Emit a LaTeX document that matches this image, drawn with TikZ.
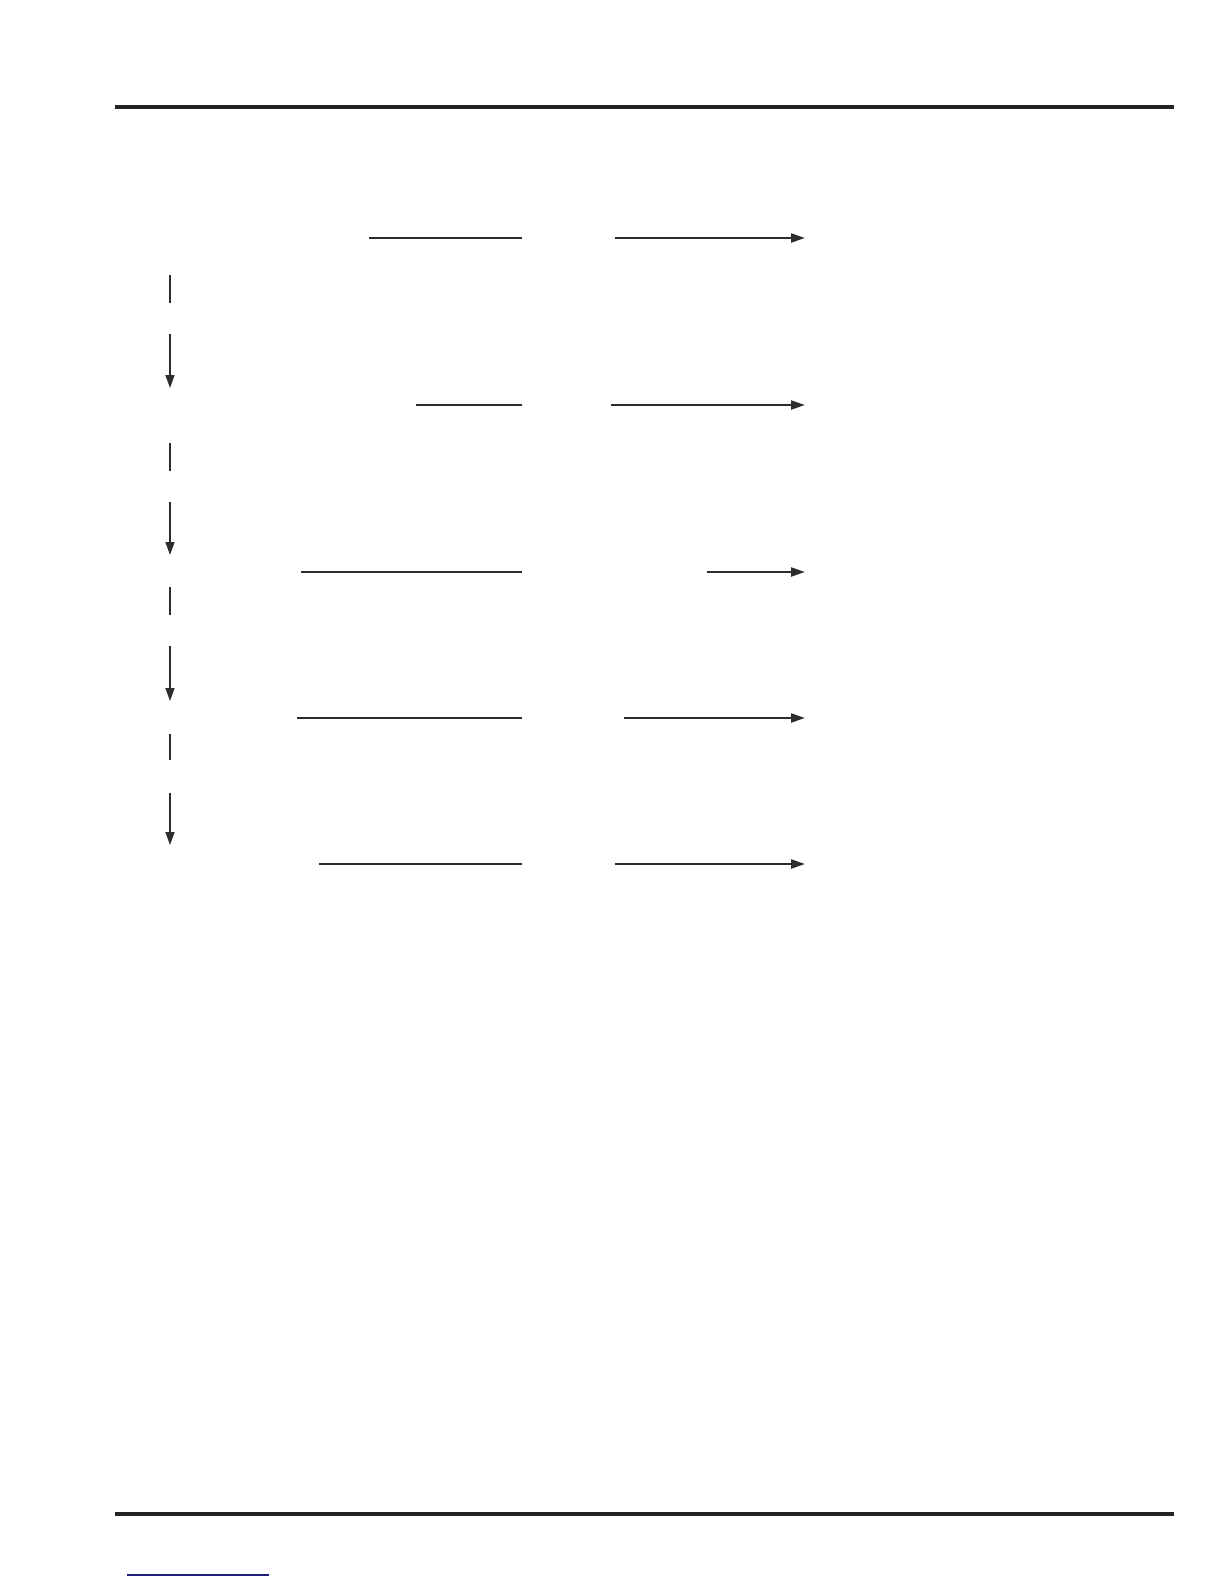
\documentclass[tikz,border=0pt]{standalone}
\usepackage{xcolor}
\usepackage{tikz}
\usetikzlibrary{arrows.meta, positioning, calc}
\definecolor{ruleGray}{RGB}{35, 35, 35}
\definecolor{lineGray}{RGB}{45, 45, 45}
\definecolor{linkBlue}{RGB}{30, 30, 120}

\begin{document}
\begin{tikzpicture}[
    x=0.5bp, y=-0.5bp,
    pagerule/.style={draw=ruleGray, line width=2bp},
    hline/.style={draw=lineGray, line width=1.1bp},
    harrow/.style={hline, -{Triangle[length=7bp, width=4.5bp]}},
    vline/.style={draw=lineGray, line width=0.7bp},
    varrow/.style={vline, -{Triangle[length=6.5bp, width=4.5bp]}}
]
\useasboundingbox (0,0) rectangle (1224,1584);

% Page rules
\coordinate (topL) at (115,107);
\coordinate (topR) at (1174,107);
\coordinate (botL) at (115,1514);
\coordinate (botR) at (1174,1514);
\draw[pagerule] (topL) -- (topR);
\draw[pagerule] (botL) -- (botR);

% Link underline
\coordinate (linkL) at (127,1575);
\coordinate (linkR) at (269,1575);
\draw[draw=linkBlue, line width=0.6bp] (linkL) -- (linkR);

% Row 1
\coordinate (aL) at (369,238);
\coordinate (aM) at (522,238);
\coordinate (aS) at (615,238);
\coordinate (aE) at (805,238);
\draw[hline] (aL) -- (aM);
\draw[harrow] (aS) -- (aE);

% Row 2
\coordinate (bL) at (416,405);
\coordinate (bM) at (522,405);
\coordinate (bS) at (611,405);
\coordinate (bE) at (805,405);
\draw[hline] (bL) -- (bM);
\draw[harrow] (bS) -- (bE);

% Row 3
\coordinate (cL) at (301,572);
\coordinate (cM) at (522,572);
\coordinate (cS) at (707,572);
\coordinate (cE) at (805,572);
\draw[hline] (cL) -- (cM);
\draw[harrow] (cS) -- (cE);

% Row 4
\coordinate (dL) at (297,718);
\coordinate (dM) at (522,718);
\coordinate (dS) at (624,718);
\coordinate (dE) at (805,718);
\draw[hline] (dL) -- (dM);
\draw[harrow] (dS) -- (dE);

% Row 5
\coordinate (eL) at (319,864);
\coordinate (eM) at (522,864);
\coordinate (eS) at (615,864);
\coordinate (eE) at (805,864);
\draw[hline] (eL) -- (eM);
\draw[harrow] (eS) -- (eE);

% Vertical flow
\coordinate (v1a) at (170,275);
\coordinate (v1b) at (170,303);
\coordinate (v1c) at (170,334);
\coordinate (v1d) at (170,388);
\draw[vline] (v1a) -- (v1b);
\draw[varrow] (v1c) -- (v1d);

\coordinate (v2a) at (170,443);
\coordinate (v2b) at (170,471);
\coordinate (v2c) at (170,502);
\coordinate (v2d) at (170,555);
\draw[vline] (v2a) -- (v2b);
\draw[varrow] (v2c) -- (v2d);

\coordinate (v3a) at (170,587);
\coordinate (v3b) at (170,615);
\coordinate (v3c) at (170,646);
\coordinate (v3d) at (170,701);
\draw[vline] (v3a) -- (v3b);
\draw[varrow] (v3c) -- (v3d);

\coordinate (v4a) at (170,734);
\coordinate (v4b) at (170,760);
\coordinate (v4c) at (170,793);
\coordinate (v4d) at (170,845);
\draw[vline] (v4a) -- (v4b);
\draw[varrow] (v4c) -- (v4d);

\end{tikzpicture}
\end{document}
